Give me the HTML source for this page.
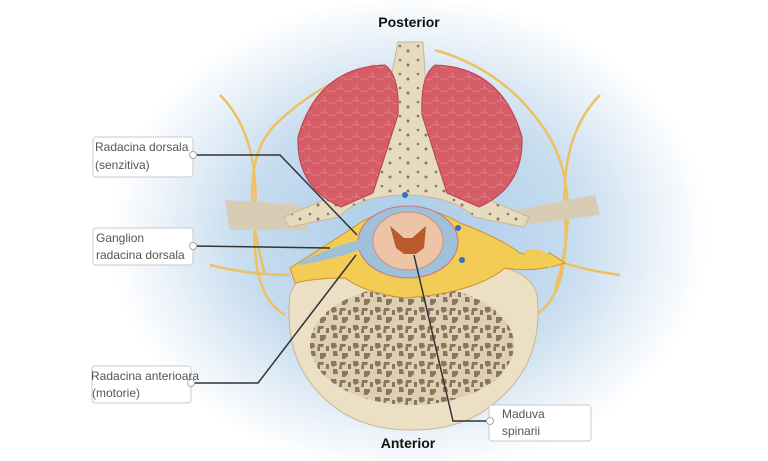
<!DOCTYPE html>
<html><head><meta charset="utf-8"><style>
html,body{margin:0;padding:0;background:#fff;}
svg{display:block;}
text{font-family:"Liberation Sans",sans-serif;}
</style></head><body>
<svg width="768" height="461" viewBox="0 0 768 461" xmlns="http://www.w3.org/2000/svg">
<defs>
<radialGradient id="bg" cx="410" cy="235" r="300" gradientUnits="userSpaceOnUse" gradientTransform="translate(410 235) scale(1 0.8) translate(-410 -235)">
<stop offset="0" stop-color="#a9cbe8"/><stop offset="0.55" stop-color="#c6dcef"/><stop offset="0.85" stop-color="#eef4fa"/><stop offset="1" stop-color="#fff"/>
</radialGradient>
<pattern id="sp" width="22" height="18" patternUnits="userSpaceOnUse">
<rect width="22" height="18" fill="#ddd0b2"/>
<path d="M1 1h5l1 4-4 2-2-2zM10 2h6l-1 3h-3v4h-3zM3 9h4l1 5h-5zM12 11h6v3l-3 3h-3zM18 4h3v5h-3z" fill="#8c7460"/>
</pattern>
<pattern id="lp" width="18" height="14" patternUnits="userSpaceOnUse">
<rect width="18" height="14" fill="#e6dabf"/>
<circle cx="4" cy="4" r="1.3" fill="#8c7460"/><circle cx="12" cy="9" r="1.5" fill="#8c7460"/>
</pattern>
<pattern id="mu" width="16" height="12" patternUnits="userSpaceOnUse">
<rect width="16" height="12" fill="#d65c68"/>
<path d="M0 6q4-4 8 0t8 0M4 0q2 3 0 6" stroke="#e2848c" stroke-width="0.8" fill="none"/>
</pattern>
</defs>
<rect width="768" height="461" fill="#fff"/>
<ellipse cx="410" cy="235" rx="320" ry="235" fill="url(#bg)"/>
<g fill="none" stroke="#eec060" stroke-width="2.5">
<path d="M220 95q40 40 35 120t30 100"/>
<path d="M600 95q-40 40 -35 120t-30 100"/>
<path d="M375 65q-60 20 -100 60t-10 150"/>
<path d="M435 50q70 20 110 80t10 160"/>
<path d="M210 265q40 10 80 10"/><path d="M540 255q40 15 80 20"/>
</g>
<path d="M225 200l75 5 10 25h-80z" fill="#d8ccb4"/>
<path d="M515 210l80-15 5 20-80 10z" fill="#d8ccb4"/>
<path d="M290 295q10-30 60-30q62 6 124 0q55 0 63 30q8 70-45 110q-30 25-80 25q-50 0-80-25q-50-40-42-110z" fill="#ece0c4" stroke="#c8b594"/>
<ellipse cx="412" cy="345" rx="102" ry="60" fill="url(#sp)"/>
<!-- lamina/spinous -->
<path d="M398 42h25l4 60 25 60 45 5-8 33 40 17-5 10-50-10q-20-20-65-22q-50 0-70 22l-50 10-5-10 40-17-8-33 45-5 25-60z" fill="url(#lp)" stroke="#c9b896"/>
<path d="M385 65q15 10 13 50l-25 78-32 14q-45-20-43-70 20-70 87-72z" fill="url(#mu)" stroke="#b84050"/>
<path d="M435 65q-15 10 -13 50l25 78 32 14q45-20 43-70-20-70-87-72z" fill="url(#mu)" stroke="#b84050"/>
<path d="M290 268q40-25 70-45q50-30 100 0q40 15 60 30q20 5 30 0l15 10q-30 10-60 5q-30 25-100 30q-40-5-60-20q-30 0-50 5z" fill="#f2cc55" stroke="#d09030"/>
<path d="M525 250q15-5 30 10l-5 8q-15-8-25-8z" fill="#f2cc55"/>
<ellipse cx="408" cy="242" rx="50" ry="36" fill="#9ec0d8" stroke="#d07080"/>
<path d="M300 262q30-15 60-22l0 10q-30 10-60 15z" fill="#9ec0d8"/>
<ellipse cx="408" cy="241" rx="35" ry="29" fill="#eec4a6" stroke="#d09080"/>
<path d="M390 226l14 12 8 0 14-12-2 22-8 6h-12l-8-6z" fill="#b85a2c"/>
<circle cx="405" cy="195" r="3" fill="#3a6cc0"/><circle cx="462" cy="260" r="3" fill="#3a6cc0"/><circle cx="458" cy="228" r="3" fill="#3a6cc0"/>
<g fill="#fff" stroke="#c8c8c8">
<rect x="93" y="137" width="100" height="40" rx="3"/>
<rect x="93" y="228" width="100" height="37" rx="3"/>
<rect x="92" y="366" width="99" height="37" rx="3"/>
<rect x="489" y="405" width="102" height="36" rx="3"/>
</g>
<g fill="none" stroke="#333" stroke-width="1.5">
<polyline points="193,155 280,155 357,235"/>
<polyline points="193,246 330,248"/>
<polyline points="191,383 258,383 356,255"/>
<polyline points="490,421 453,421 414,255"/>
</g>
<g fill="#fff" stroke="#aaa"><circle cx="193" cy="155" r="3.5"/><circle cx="193" cy="246" r="3.5"/><circle cx="191" cy="383" r="3.5"/><circle cx="490" cy="421" r="3.5"/></g>
<g font-size="12" fill="#555">
<text x="95" y="151">Radacina dorsala</text><text x="95" y="169">(senzitiva)</text>
<text x="96" y="242">Ganglion</text><text x="96" y="259">radacina dorsala</text>
<text x="91" y="380">Radacina anterioara</text><text x="92" y="397">(motorie)</text>
<text x="502" y="418">Maduva</text><text x="502" y="435">spinarii</text>
</g>
<text x="409" y="27" font-size="14" font-weight="bold" text-anchor="middle" fill="#111">Posterior</text>
<text x="408" y="448" font-size="14" font-weight="bold" text-anchor="middle" fill="#111">Anterior</text>
</svg>
</body></html>
